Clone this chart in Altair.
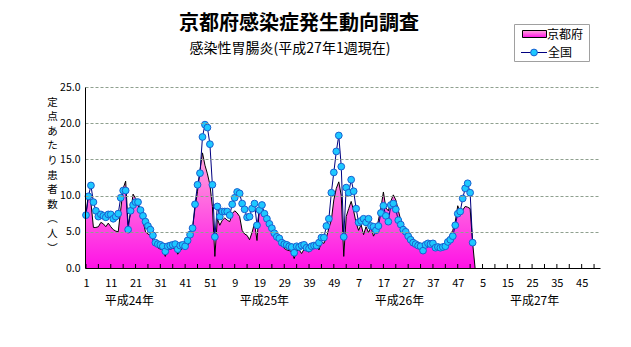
import altair as alt
import pandas as pd

# 全国 (national), index 0 = 平成24年 第1週
national = [7.3, 9.9, 11.4, 9.1, 7.9, 7.1, 7.4, 7.2, 7.0, 7.4,
            7.4, 6.8, 7.1, 7.5, 9.7, 10.7, 10.7, 5.3, 7.9, 8.7,
            9.1, 9.1, 8.0, 7.2, 6.4, 5.8, 5.3, 4.5, 3.5, 3.3,
            3.2, 3.0, 2.3, 3.0, 3.1, 3.2, 3.3, 2.6, 3.1, 3.2,
            3.0, 3.8, 4.6, 5.5, 8.8, 11.5, 13.1, 18.1, 19.8, 19.4,
            17.1, 11.5, 4.3, 8.5, 7.1, 7.8, 7.8, 7.8, 7.3, 8.8,
            9.7, 10.5, 10.3, 8.9, 8.1, 7.0, 7.1, 8.2, 8.9, 5.9,
            8.0, 8.7, 7.5, 6.8, 6.1, 5.5, 4.8, 4.3, 4.1, 3.5,
            3.3, 3.2, 3.0, 2.9, 2.1, 3.0, 2.9, 3.1, 3.2, 2.8,
            2.7, 3.0, 3.1, 3.1, 3.5, 4.2, 4.2, 5.8, 6.8, 10.4,
            13.2, 16.1, 18.3, 14.0, 4.3, 11.1, 10.4, 12.2, 10.6, 8.2,
            6.3, 6.5, 6.8, 6.3, 6.8, 5.8, 5.7, 5.2, 5.8, 7.6,
            8.6, 7.2, 6.4, 8.7, 8.9, 8.1, 6.6, 6.0, 5.3, 5.0,
            4.4, 3.9, 3.5, 3.3, 3.1, 3.0, 2.4, 3.2, 3.4, 3.3,
            3.4, 2.8, 2.9, 2.8, 2.9, 3.0, 3.6, 3.9, 4.4, 5.9,
            7.5, 7.8, 9.6, 11.0, 11.7, 10.4, 3.5]

# 京都府 (Kyoto)
kyoto = [7.5, 10.3, 9.0, 5.6, 5.6, 5.7, 6.3, 6.1, 5.7, 6.2,
         5.7, 5.3, 5.1, 5.0, 8.0, 11.0, 12.0, 6.0, 7.6, 10.2,
         9.6, 8.8, 7.6, 6.5, 5.0, 4.7, 4.5, 3.9, 3.2, 2.8,
         2.6, 2.5, 1.6, 2.6, 2.6, 2.7, 2.8, 1.9, 2.4, 2.7,
         2.8, 3.1, 4.0, 5.5, 8.3, 10.6, 13.5, 15.9, 14.2, 13.0,
         11.5, 8.5, 1.6, 6.8, 5.9, 6.6, 6.9, 6.6, 6.4, 7.5,
         7.9, 7.6, 7.1, 5.2, 4.7, 4.5, 3.9, 4.9, 6.2, 3.8,
         8.5, 8.3, 7.6, 6.9, 5.8, 5.4, 4.6, 4.2, 3.6, 3.2,
         2.7, 2.5, 2.4, 2.3, 1.3, 2.4, 2.5, 2.0, 2.6, 2.4,
         2.2, 2.6, 2.9, 3.3, 2.5, 3.6, 3.4, 4.2, 5.5, 6.6,
         9.4, 11.0, 11.9, 10.0, 1.6, 7.1, 8.2, 9.2, 7.9, 6.2,
         5.2, 6.0, 4.6, 5.7, 4.9, 5.7, 4.4, 5.1, 6.6, 8.3,
         10.5, 8.3, 7.9, 9.2, 10.1, 9.4, 8.0, 6.6, 5.9, 5.5,
         5.0, 4.5, 4.1, 3.5, 3.3, 3.2, 2.3, 3.0, 3.3, 3.4,
         3.2, 3.1, 3.1, 3.1, 3.2, 3.4, 3.9, 4.6, 5.2, 6.4,
         8.6, 7.6, 8.0, 8.5, 8.4, 8.2, 3.5, 0.0]

label_positions = list(range(0, 201, 10))
minor_ticks = list(range(0, 206, 5))
y_ticks = [0, 5, 10, 15, 20, 25]
year_labels = ["平成24年", "平成25年", "平成26年", "平成27年"]
year_pos = [17.5, 72, 126.5, 181]
y_title = ["定", "点", "あ", "た", "り", "患", "者", "数", "︵", "人", "︶"]

df_n = pd.DataFrame({"i": list(range(len(national))), "v": national})
df_k = pd.DataFrame({"i": list(range(len(kyoto))), "v": kyoto})
df_ticks = pd.DataFrame({"i": minor_ticks})
df_years = pd.DataFrame({"i": year_pos, "t": year_labels})
one = pd.DataFrame({"a": [0]})

W, H = 515, 181
FONT = "Noto Sans CJK JP"

xscale = alt.Scale(domain=[-0.4, 207.4], nice=False, zero=False)
yscale = alt.Scale(domain=[0, 25], nice=False, zero=True)

label_expr = ("datum.value < 52 ? datum.value + 1 : datum.value < 104 ? datum.value - 51 : "
              "datum.value < 156 ? datum.value - 103 : datum.value - 155")

x_axis = alt.Axis(values=label_positions, labelExpr=label_expr, ticks=False, grid=False,
                  domainColor="black", labelPadding=9, labelFontSize=11, labelColor="black",
                  labelFont=FONT, title=None, labelAngle=0, zindex=1,
                  labelOverlap=False, labelFlush=False)
y_axis = alt.Axis(values=y_ticks, format=".1f", grid=True, gridColor="#8fa08f",
                  gridDash=[3, 2], gridWidth=1, ticks=False, domainColor="black",
                  labelPadding=5, labelFontSize=10.5, labelFont=FONT, labelColor="black",
                  labelOverlap=False, labelFlush=False,
                  title=y_title, titleAngle=0, titleX=-33, titleY=10, titleAlign="center",
                  titleBaseline="top", titleFontSize=10.5, titleFontWeight="normal",
                  titleFont=FONT, titleLineHeight=14.6, titleColor="black", zindex=1)

X = alt.X("i:Q", scale=xscale, axis=x_axis)
Y = alt.Y("v:Q", scale=yscale, axis=y_axis)

grad = alt.Gradient(gradient="linear",
                    stops=[alt.GradientStop(color="#ffa8dc", offset=0),
                           alt.GradientStop(color="#ff12e6", offset=1)],
                    x1=0, x2=0, y1=0, y2=1)

base_k = alt.Chart(df_k)
area = base_k.mark_area(color=grad, opacity=1).encode(x=X, y=Y)
kline = base_k.mark_line(color="black", strokeWidth=1).encode(x=X, y=Y)

base_n = alt.Chart(df_n)
nline = base_n.mark_line(color="#000080", strokeWidth=1).encode(x=X, y=Y)
npts = base_n.mark_point(filled=True, size=46, fill="#1ec8ff", stroke="#1a5fd0",
                         strokeWidth=1, opacity=1, shape="circle").encode(x=X, y=Y)

ticks = alt.Chart(df_ticks).mark_rule(color="black", strokeWidth=1).encode(
    x=X, y=alt.value(H), y2=alt.value(H - 4))

years = alt.Chart(df_years).mark_text(font=FONT, fontSize=12, color="black",
                                      baseline="middle", align="center").encode(
    x=X, y=alt.value(H + 33), text="t:N")

title = alt.Chart(one).mark_text(text="京都府感染症発生動向調査", font=FONT, fontSize=20,
                                 fontWeight="bold", align="center", baseline="middle",
                                 color="black").encode(x=alt.value(214), y=alt.value(-63))
subtitle = alt.Chart(one).mark_text(text="感染性胃腸炎(平成27年1週現在)", font=FONT,
                                    fontSize=14, align="center", baseline="middle",
                                    color="black").encode(x=alt.value(205), y=alt.value(-38))

# legend
leg_box = alt.Chart(one).mark_rect(fill="white", stroke="#a0a0a0", strokeWidth=1).encode(
    x=alt.value(429.5), x2=alt.value(504.5), y=alt.value(-62.5), y2=alt.value(-25.5))
leg_sw = alt.Chart(one).mark_rect(color=grad, stroke="black", strokeWidth=1).encode(
    x=alt.value(437.5), x2=alt.value(461.5), y=alt.value(-56.5), y2=alt.value(-49.5))
leg_t1 = alt.Chart(one).mark_text(text="京都府", font=FONT, fontSize=12, align="left",
                                  baseline="middle", color="black").encode(
    x=alt.value(462), y=alt.value(-52))
leg_line = alt.Chart(one).mark_rule(color="#000080", strokeWidth=1).encode(
    x=alt.value(436), x2=alt.value(462), y=alt.value(-34.5))
leg_pt = alt.Chart(one).mark_point(filled=True, size=46, fill="#1ec8ff", stroke="#1a5fd0",
                                   strokeWidth=1, opacity=1, shape="circle").encode(
    x=alt.value(449), y=alt.value(-34.5))
leg_t2 = alt.Chart(one).mark_text(text="全国", font=FONT, fontSize=12, align="left",
                                  baseline="middle", color="black").encode(
    x=alt.value(463), y=alt.value(-34))

chart = alt.layer(area, kline, nline, npts, ticks, years, title, subtitle,
                  leg_box, leg_sw, leg_t1, leg_line, leg_pt, leg_t2).properties(
    width=W, height=H,
    autosize=alt.AutoSizeParams(type="none"),
    padding={"left": 85, "top": 87, "right": 31, "bottom": 79},
    background="white",
).configure_view(stroke=None)

chart.save("out.html", embed_options={"renderer": "svg", "actions": False})
